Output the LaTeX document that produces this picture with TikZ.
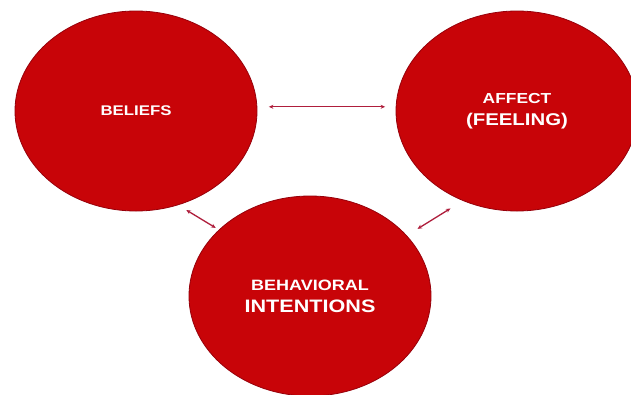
\documentclass[tikz,border=0pt]{standalone}
\usepackage{fontspec}
\newfontfamily\lab[FakeStretch=1.2]{Liberation Sans}
\usetikzlibrary{shapes.geometric,arrows.meta}
\definecolor{blobred}{RGB}{200,4,8}
\definecolor{blobedge}{RGB}{150,0,10}
\definecolor{linkred}{RGB}{175,30,60}
\tikzset{
  blob/.style={ellipse, fill=blobred, draw=blobedge, line width=0.8pt,
    minimum width=242pt, minimum height=200pt, inner sep=0pt, outer sep=0pt,
    text=white, align=center, font=\lab\bfseries\fontsize{16}{22}\selectfont},
  link/.style={draw=linkred, line width=1.3pt,
    {Stealth[length=4.5pt,width=4pt]}-{Stealth[length=4.5pt,width=4pt]}}
}
\begin{document}
\begin{tikzpicture}[x=1pt,y=-1pt]
\useasboundingbox (0,0) rectangle (631,394);
\fill[white] (0,0) rectangle (631,394);
\clip (0,0) rectangle (631,394);
\node[blob] (bel) at (136,111) {\fontsize{14}{22}\selectfont BELIEFS};
\node[blob] (aff) at (517,111) {{\fontsize{14.5}{22}\selectfont AFFECT}\\{\fontsize{17}{22}\selectfont (FEELING)}};
\node[blob] (beh) at (310,296) {{\fontsize{15}{22}\selectfont BEHAVIORAL}\\{\fontsize{18}{22}\selectfont INTENTIONS}};
\draw[link, shorten <=12pt, shorten >=11pt] (bel.2) -- (aff.178);
\draw[link, shorten <=10pt, shorten >=4pt] (bel.-66.7) -- (beh.144.2);
\draw[link, shorten <=13pt, shorten >=15pt] (beh.32.4) -- (aff.-121.9);
\end{tikzpicture}
\end{document}
